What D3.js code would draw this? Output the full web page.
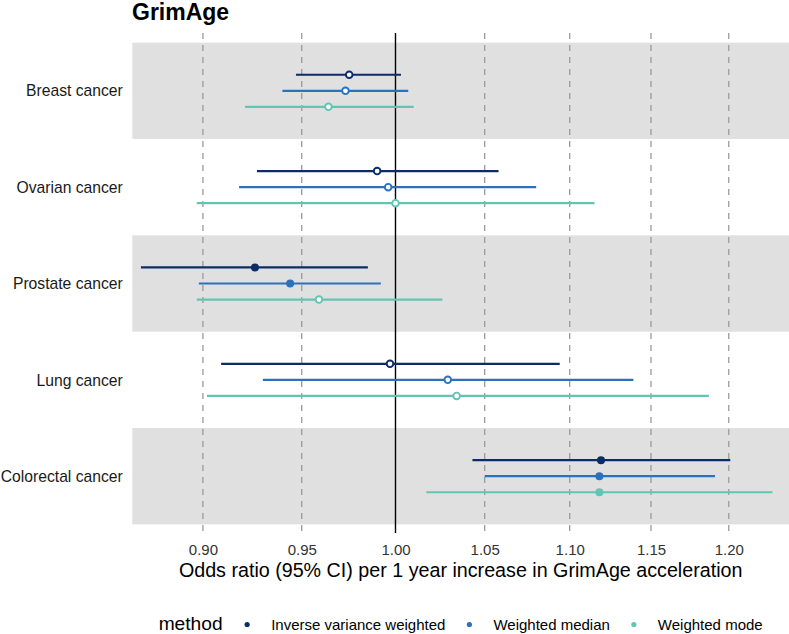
<!DOCTYPE html>
<html><head><meta charset="utf-8">
<script src="https://cdn.jsdelivr.net/npm/d3@7"></script>
<style>body{margin:0;background:#fff}svg{display:block;font-family:"Liberation Sans",Arial,sans-serif}</style>
</head><body><svg id="chart" width="789" height="634"></svg>
<script>
const categories = ["Breast cancer","Ovarian cancer","Prostate cancer","Lung cancer","Colorectal cancer"];
const methods = ["Inverse variance weighted","Weighted median","Weighted mode"];
const colors = ["#0c2c66","#2c71bb","#62c5b4"];
// odds ratios per category, per method
const orIVW     = [0.975, 0.990, 0.926, 0.997, 1.119];
const loIVW     = [0.947, 0.927, 0.870, 0.909, 1.043];
const hiIVW     = [1.003, 1.058, 0.985, 1.094, 1.201];
const orMedian  = [0.973, 0.996, 0.944, 1.029, 1.118];
const loMedian  = [0.940, 0.918, 0.898, 0.930, 1.050];
const hiMedian  = [1.007, 1.080, 0.992, 1.139, 1.191];
const orMode    = [0.964, 1.000, 0.959, 1.034, 1.118];
const loMode    = [0.921, 0.897, 0.897, 0.902, 1.017];
const hiMode    = [1.010, 1.115, 1.026, 1.187, 1.229];
const sigIVW    = [false, false, true, false, true];
const sigMedian = [false, false, true, false, true];
const sigMode   = [false, false, false, false, true];
const xTicks = [0.90, 0.95, 1.00, 1.05, 1.10, 1.15, 1.20];
const title = "GrimAge";
const xTitle = "Odds ratio (95% CI) per 1 year increase in GrimAge acceleration";
const legendTitle = "method";

const rows = [];
const series = [[orIVW,loIVW,hiIVW,sigIVW],[orMedian,loMedian,hiMedian,sigMedian],[orMode,loMode,hiMode,sigMode]];
categories.forEach((c,i)=>series.forEach((s,m)=>rows.push({cat:c,m,or:s[0][i],lo:s[1][i],hi:s[2][i],sig:s[3][i]})));

const svg = d3.select("#chart");
const pLeft = 132.3, pRight = 789, pTop = 33, pBottom = 534;
const x = d3.scaleLog().domain([0.8659, 1.2402]).range([pLeft, pRight]);
const y = d3.scaleBand().domain(categories).range([pTop, pBottom]).paddingOuter(0.1).paddingInner(0);
const dodge = d3.scaleBand().domain(methods).range([-y.bandwidth()/4, y.bandwidth()/4]).padding(0);

// bands
svg.append("g").selectAll("rect").data(categories.filter((d,i)=>i%2===0)).join("rect")
  .attr("x", pLeft).attr("width", pRight-pLeft)
  .attr("y", d=>y(d)).attr("height", y.bandwidth()).attr("fill","#e0e0e0");

// grid lines
svg.append("g").selectAll("line").data(xTicks.filter(t=>t!==1)).join("line")
  .attr("x1", d=>x(d)).attr("x2", d=>x(d)).attr("y1", pTop).attr("y2", pBottom-1)
  .attr("stroke","#9a9a9a").attr("stroke-width",1.3).attr("stroke-dasharray","6,6");
svg.append("line").attr("x1", x(1)).attr("x2", x(1)).attr("y1", pTop).attr("y2", pBottom-1)
  .attr("stroke","#000").attr("stroke-width",1.4);

// x axis labels
const xa = d3.axisBottom(x).tickValues(xTicks).tickFormat(d3.format(".2f")).tickSize(0).tickPadding(0);
const gx = svg.append("g").attr("transform",`translate(0,${pBottom+21})`).call(xa);
gx.select(".domain").remove();
gx.selectAll("text").attr("font-size",15).attr("fill","#333").attr("font-family","Liberation Sans, Arial, sans-serif").attr("dy",0);

// y axis labels
const ya = d3.axisLeft(y).tickSize(0).tickPadding(0);
const gy = svg.append("g").attr("transform",`translate(${pLeft-9.5},0)`).call(ya);
gy.select(".domain").remove();
gy.selectAll("text").attr("font-size",15.7).attr("fill","#1a1a1a").attr("font-family","Liberation Sans, Arial, sans-serif").attr("dy","0.36em");

// error bars and points
const yc = d => y(d.cat) + y.bandwidth()/2 + dodge(methods[d.m]) + dodge.bandwidth()/2;
svg.append("g").selectAll("line").data(rows).join("line")
  .attr("x1", d=>x(d.lo)).attr("x2", d=>x(d.hi)).attr("y1", yc).attr("y2", yc)
  .attr("stroke", d=>colors[d.m]).attr("stroke-width",2.2);
svg.append("g").selectAll("circle").data(rows).join("circle")
  .attr("cx", d=>x(d.or)).attr("cy", yc)
  .attr("r", d=>d.sig?4:3.3)
  .attr("fill", d=>d.sig?colors[d.m]:"#fff")
  .attr("stroke", d=>colors[d.m]).attr("stroke-width", d=>d.sig?0:1.9);

// title
svg.append("text").attr("x",132).attr("y",20).attr("font-size",23).attr("font-weight","bold").attr("fill","#000").text(title);

// x title
svg.append("text").attr("x",(pLeft+pRight)/2).attr("y",577).attr("text-anchor","middle").attr("font-size",19.7).attr("fill","#000").text(xTitle);

// legend
const lg = svg.append("g");
const lt = lg.append("text").attr("y",630).attr("font-size",19.2).attr("fill","#000").text(legendTitle);
let cx = lt.node().getComputedTextLength() + 24.5;
methods.forEach((mth,i)=>{
  lg.append("circle").attr("cx",cx).attr("cy",624.5).attr("r",2.6).attr("fill",colors[i]);
  const t = lg.append("text").attr("x",cx+24).attr("y",630).attr("font-size",15).attr("fill","#000").text(mth);
  cx = cx + 24 + t.node().getComputedTextLength() + 24;
});
const totalW = cx - 24;
lg.attr("transform",`translate(${(pLeft+pRight)/2 - totalW/2},0)`);
</script></body></html>
